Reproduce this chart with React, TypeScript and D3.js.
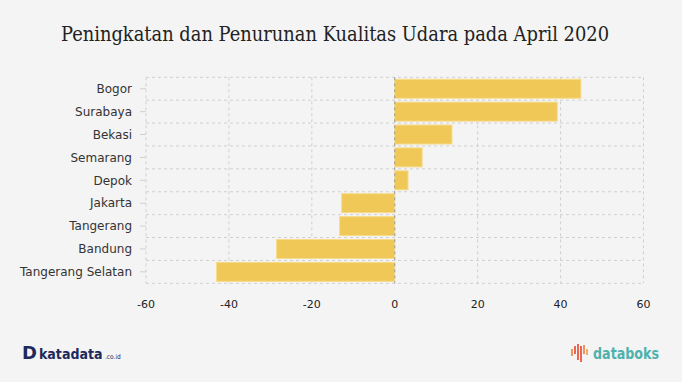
import React from "react";
import * as d3 from "d3";

const categories = ["Bogor", "Surabaya", "Bekasi", "Semarang", "Depok", "Jakarta", "Tangerang", "Bandung", "Tangerang Selatan"];
const values = [44.9, 39.2, 13.8, 6.6, 3.2, -12.8, -13.3, -28.5, -43.0];
const xTicks = [-60, -40, -20, 0, 20, 40, 60];
const title = "Peningkatan dan Penurunan Kualitas Udara pada April 2020";

const W = 682;
const H = 382;
const margin = { left: 146, right: 682 - 643.5, top: 77.3, bottom: 382 - 283.3 };

export default function App() {
  const x = d3.scaleLinear().domain([-60, 60]).range([margin.left, W - margin.right]);
  const y = d3
    .scaleBand<string>()
    .domain(categories)
    .range([margin.top, H - margin.bottom])
    .paddingInner(0.17)
    .paddingOuter(0.085);
  const y0 = margin.top;
  const y1 = H - margin.bottom;
  const boundaries = d3.range(categories.length + 1).map((i) => margin.top + ((y1 - y0) / categories.length) * i);
  const font = "'DejaVu Sans', Verdana, sans-serif";

  return (
    <div style={{ position: "fixed", left: 0, top: 0, width: W, height: H }}>
      <svg width={W} height={H} style={{ display: "block" }}>
        <rect x={0} y={0} width={W} height={H} fill="#f4f4f4" />
        <text
          x={61}
          y={41}
          fontFamily="'DejaVu Serif Condensed', 'DejaVu Serif', serif"
          fontSize={21}
          fill="#222"
          textLength={548}
          lengthAdjust="spacingAndGlyphs"
        >
          {title}
        </text>

        {boundaries.map((b, i) => (
          <line key={"h" + i} x1={x(-60)} x2={x(60)} y1={b} y2={b} stroke="#d0d0d0" strokeDasharray="3,3" />
        ))}
        {xTicks.map((t) =>
          t === 0 ? null : (
            <line key={"v" + t} x1={x(t)} x2={x(t)} y1={y0} y2={y1} stroke="#d0d0d0" strokeDasharray="3,3" />
          )
        )}

        {categories.map((c, i) => {
          const v = values[i];
          const xa = x(Math.min(0, v));
          const xb = x(Math.max(0, v));
          return (
            <rect
              key={c}
              x={xa}
              y={y(c)}
              width={xb - xa}
              height={y.bandwidth()}
              fill="#efc54f"
              fillOpacity={0.95}
              stroke="#f6dc8c"
              strokeWidth={1}
            />
          );
        })}

        <line x1={x(0)} x2={x(0)} y1={y0} y2={y1} stroke="#999" strokeDasharray="3,3" />

        {categories.map((c) => {
          const cy = (y(c) as number) + y.bandwidth() / 2;
          return (
            <g key={"l" + c}>
              <line x1={140} x2={146} y1={cy} y2={cy} stroke="#d0d0d0" />
              <text x={132} y={cy} dy="0.35em" textAnchor="end" fontFamily={font} fontSize={12} fill="#333">
                {c}
              </text>
            </g>
          );
        })}

        {xTicks.map((t) => (
          <text key={"x" + t} x={x(t)} y={304} dy="0.35em" textAnchor="middle" fontFamily={font} fontSize={11} fill="#222">
            {t}
          </text>
        ))}

        <g>
          <text x={22} y={359} fontFamily="'DejaVu Sans', sans-serif" fontWeight="bold" fontSize={18} fill="#1d2a5b">
            D
          </text>
          <text
            x={39}
            y={359}
            fontFamily="'DejaVu Sans Condensed', 'DejaVu Sans', sans-serif"
            fontWeight="bold"
            fontSize={14}
            fill="#1d2a5b"
          >
            katadata
          </text>
          <text x={105} y={359} fontFamily="'DejaVu Sans Condensed', 'DejaVu Sans', sans-serif" fontSize={6.5} fill="#1d2a5b">
            .co.id
          </text>
        </g>

        <g>
          {[
            { dx: 0, t: 349, b: 356, c: "#f08a4b" },
            { dx: 3, t: 346, b: 354, c: "#e9573f" },
            { dx: 6, t: 344, b: 360, c: "#e9573f" },
            { dx: 9, t: 346, b: 362, c: "#e9573f" },
            { dx: 12, t: 345, b: 354, c: "#f08a4b" },
            { dx: 15, t: 349, b: 355, c: "#f4a460" },
          ].map((s, i) => (
            <line key={"d" + i} x1={572 + s.dx} x2={572 + s.dx} y1={s.t} y2={s.b} stroke={s.c} strokeWidth={1.8} />
          ))}
          <text
            x={593}
            y={359}
            fontFamily="'DejaVu Sans', sans-serif"
            fontWeight="bold"
            fontSize={15}
            fill="#4fb1ad"
            textLength={66}
            lengthAdjust="spacingAndGlyphs"
          >
            databoks
          </text>
        </g>
      </svg>
    </div>
  );
}
